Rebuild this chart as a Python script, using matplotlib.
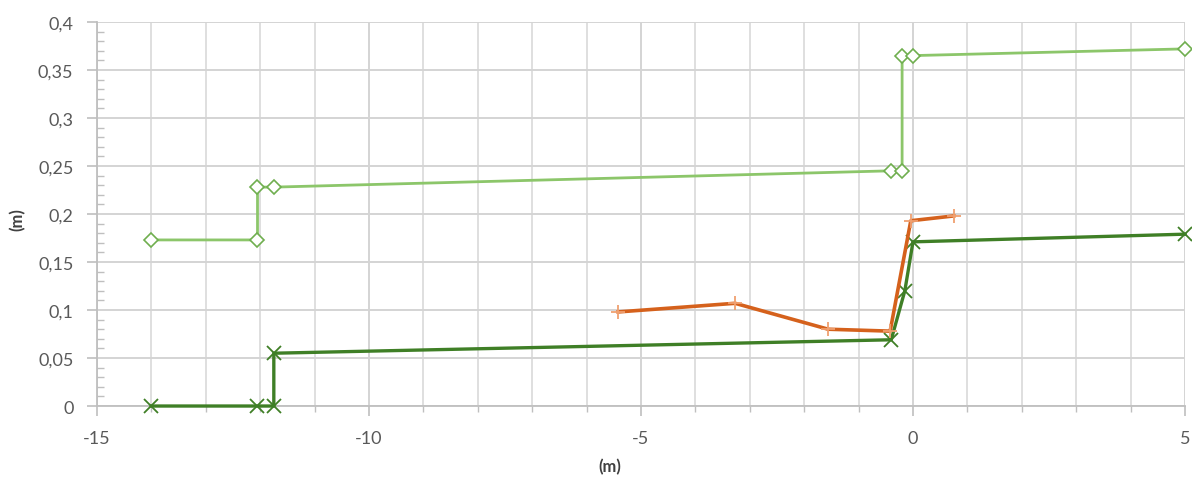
import numpy as np
from matplotlib import pyplot as plt
from matplotlib.ticker import MultipleLocator, FuncFormatter

plt.rcParams['font.family'] = ['Lato', 'DejaVu Sans']

# light green profile (diamonds)
x_light = [-14.0, -12.05, -12.05, -11.75, -0.4, -0.2, -0.2, 0.0, 5.0]
y_light = [0.173, 0.173, 0.228, 0.228, 0.245, 0.245, 0.365, 0.365, 0.372]

# dark green profile (crosses)
x_dark = [-14.0, -12.05, -11.75, -11.75, -0.4, -0.15, 0.0, 5.0]
y_dark = [0.0, 0.0, 0.0, 0.055, 0.069, 0.12, 0.171, 0.179]

# orange profile (plus)
x_orange = [-5.42, -3.27, -1.56, -0.42, -0.04, 0.75]
y_orange = [0.098, 0.107, 0.080, 0.078, 0.193, 0.198]


def comma(v, pos):
		s = ('%g' % round(v, 3))
		return s.replace('.', ',')


fig = plt.figure(figsize=(11.92, 4.81), dpi=100)
ax = fig.add_axes([0.0814, 0.1538, 0.9127, 0.7984])

ax.plot(x_light, y_light, color='#8cc66a', lw=2, marker='D', ms=7,
		mfc='white', mec='#6fae4f', mew=1.2, zorder=3, clip_on=False)
ax.plot(x_dark, y_dark, color='#3f7f26', lw=2.4, marker='x', ms=10,
		mec='#3f7f26', mew=1.3, zorder=4, clip_on=False)
ax.plot(x_orange, y_orange, color='#d5611c', lw=2.6, marker='+', ms=10,
		mec='#f0a070', mew=1.3, zorder=5, clip_on=False)

ax.set_xlim(-15, 5)
ax.set_ylim(0, 0.4)
ax.xaxis.set_major_locator(MultipleLocator(5))
ax.xaxis.set_minor_locator(MultipleLocator(1))
ax.yaxis.set_major_locator(MultipleLocator(0.05))
ax.yaxis.set_minor_locator(MultipleLocator(0.01))
ax.xaxis.set_major_formatter(FuncFormatter(comma))
ax.yaxis.set_major_formatter(FuncFormatter(comma))

ax.grid(True, which='major', color='#d4d4d4', lw=1.4)
ax.grid(True, which='minor', axis='x', color='#dcdcdc', lw=1.3)
ax.set_axisbelow(True)

for sp in ['top', 'right']:
		ax.spines[sp].set_visible(False)
for sp in ['left', 'bottom']:
		ax.spines[sp].set_color('#bfbfbf')
		ax.spines[sp].set_linewidth(1.3)

ax.tick_params(axis='both', which='major', length=7, color='#bfbfbf',
		labelsize=13, labelcolor='#595959', width=1.2)
ax.tick_params(axis='x', which='major', pad=10)
ax.tick_params(axis='y', which='major', pad=10)
ax.tick_params(axis='x', which='minor', length=4, color='#bfbfbf', width=1)
ax.tick_params(axis='y', which='minor', direction='in', length=5,
		color='#bfbfbf', width=1)

# axis titles placed where the reference puts them
ax.set_xlabel('(m)', fontsize=12, color='#404040', fontweight='bold')
ax.set_ylabel('(m)', fontsize=12, color='#404040', fontweight='bold')
ax.xaxis.set_label_coords((610 - 97) / 1088, -(459 - 407) / 384)
ax.yaxis.set_label_coords(-(97 - 26) / 1088, (407 - 220) / 384)

plt.savefig('out.png', dpi=100)
